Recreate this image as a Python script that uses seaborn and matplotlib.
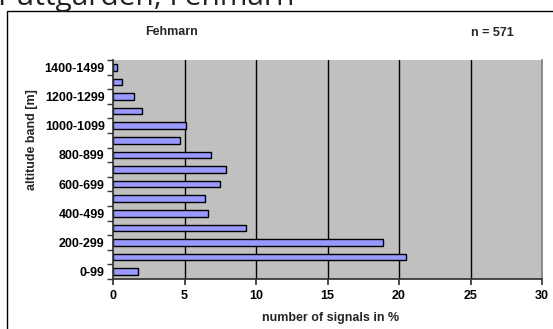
import numpy as np
import pandas as pd
import seaborn as sns
import matplotlib.pyplot as plt
from matplotlib.patches import Rectangle

# altitude bands, top to bottom as drawn
bands = ["1400-1499", "1300-1399", "1200-1299", "1100-1199", "1000-1099",
         "900-999", "800-899", "700-799", "600-699", "500-599",
         "400-499", "300-399", "200-299", "100-199", "0-99"]
share = [0.30, 0.65, 1.49, 2.0, 5.13,
         4.69, 6.83, 7.90, 7.46, 6.41,
         6.62, 9.30, 18.9, 20.5, 1.72]
x_ticks = [0, 5, 10, 15, 20, 25, 30]

df = pd.DataFrame({"band": bands, "share": share})

sns.set_theme(style="white")
plt.rcParams["font.family"] = ["Liberation Sans", "DejaVu Sans"]
fs = 9

fig = plt.figure(figsize=(5.53, 3.29), dpi=100)
ax = fig.add_axes([113 / 553, 1 - 279 / 329, 429 / 553, 219 / 329])
ax.set_facecolor("#C0C0C0")

sns.barplot(data=df, x="share", y="band", order=bands, orient="h",
            color="#9999FF", edgecolor="black", linewidth=1, width=0.45,
            saturation=1, ax=ax)

ax.set_xlim(0, 30)
ax.set_ylim(len(bands) - 0.5, -0.5)
ax.set_xticks(x_ticks)
ax.set_xticklabels([str(t) for t in x_ticks], fontsize=fs, fontweight="bold")
for t in x_ticks[1:]:
    ax.axvline(t, color="black" if t < 30 else "#808080", lw=1, zorder=0.5)

# labels on every second band, tick marks on band boundaries
lab_pos = [i for i, b in enumerate(bands) if int(b.split("-")[0]) % 200 == 0]
ax.set_yticks(lab_pos)
ax.set_yticklabels([bands[i] for i in lab_pos], fontsize=fs, fontweight="bold")
ax.set_yticks(np.arange(-0.5, len(bands), 1), minor=True)
ax.tick_params(axis="y", which="major", length=0, pad=6, colors="black")
ax.tick_params(axis="y", which="minor", length=4, direction="out", color="#333333", left=True)
ax.tick_params(axis="x", which="major", length=4, direction="out",
               bottom=True, pad=4, colors="black")
ax.tick_params(axis="x", which="major", color="#333333")

ax.spines["top"].set_visible(False)
ax.spines["right"].set_color("#808080")
ax.spines["left"].set_color("#333333")
ax.spines["bottom"].set_color("#333333")

ax.set_xlabel("number of signals in %", fontsize=fs, fontweight="bold")
ax.set_ylabel("altitude band [m]", fontsize=fs, fontweight="bold")
ax.xaxis.set_label_coords(0.508, -0.15)
ax.yaxis.set_label_coords(-0.174, 0.635)

fig.text(172 / 553, 1 - 32 / 329, "Fehmarn", fontsize=fs, fontweight="bold",
         ha="center", va="center")
fig.text(492 / 553, 1 - 33 / 329, "n = 571", fontsize=fs, fontweight="bold",
         ha="center", va="center")

# outer chart frame
fig.patches.append(Rectangle((7 / 553, -0.05), 1.0, 1 - 11 / 329 + 0.05,
                             transform=fig.transFigure, fill=False,
                             edgecolor="black", lw=1))

fig.text(-0.004, 1 - 5 / 329, "Puttgarden, Fehmarn", fontsize=21.5,
         family=["Open Sans", "DejaVu Sans"], color="#222222",
         ha="left", va="baseline")

fig.savefig("out.png", dpi=100)
